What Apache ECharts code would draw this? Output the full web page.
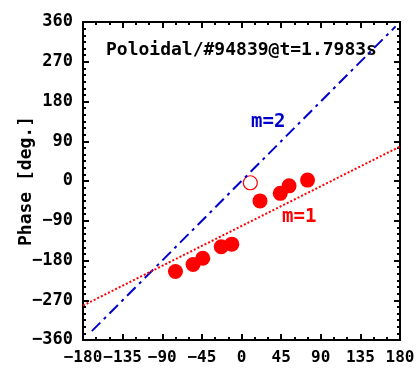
<!DOCTYPE html>
<html>
<head>
<meta charset="utf-8">
<script src="https://cdn.jsdelivr.net/npm/echarts@6/dist/echarts.min.js"></script>
<style>
  html, body { margin: 0; padding: 0; background: #fff; }
  #chart { width: 416px; height: 374px; }
</style>
</head>
<body>
<div id="chart"></div>
<script>
  // measured phases (deg) vs toroidal angle (deg)
  var measured = [
    [-75, -205], [-55, -189], [-44, -175], [-23, -149], [-11, -143],
    [21, -45], [44, -28], [54, -11], [75, 2]
  ];
  // reference probe (open circle)
  var reference = [[10, -4]];
  // fitted lines
  var lineM2 = [[-170, -340], [175, 350]];
  var lineM1 = [[-180, -282], [180, 78]];

  var xTicks = [-180, -135, -90, -45, 0, 45, 90, 135, 180];
  var yTicks = [-360, -270, -180, -90, 0, 90, 180, 270, 360];

  var font = 'DejaVu Sans Mono';
  var fmt = function (v) { return String(v).replace('-', '\u2212'); };

  var chart = echarts.init(document.getElementById('chart'));

  function axisCommon(showLabel) {
    return {
      type: 'value',
      axisLine: { show: true, onZero: false, lineStyle: { color: '#000', width: 2 } },
      axisTick: { show: true, inside: true, length: 6, lineStyle: { color: '#000', width: 2 } },
      minorTick: { show: true, length: 3, lineStyle: { color: '#000', width: 2 } },
      splitLine: { show: false },
      axisLabel: {
        show: showLabel, color: '#000', fontFamily: font, fontWeight: 'bold',
        fontSize: 17, formatter: fmt, interval: 0, showMinLabel: true, showMaxLabel: true,
        hideOverlap: false
      }
    };
  }

  var xBottom = axisCommon(true);
  xBottom.position = 'bottom';
  xBottom.min = xTicks[0]; xBottom.max = xTicks[xTicks.length - 1]; xBottom.interval = 45;
  xBottom.minorTick.splitNumber = 3;
  xBottom.axisLabel.margin = 10;
  xBottom.axisLabel.fontSize = 16;
  var xTop = axisCommon(false);
  xTop.position = 'top';
  xTop.min = xTicks[0]; xTop.max = xTicks[xTicks.length - 1]; xTop.interval = 45;
  xTop.minorTick.splitNumber = 3;

  var yLeft = axisCommon(true);
  yLeft.position = 'left';
  yLeft.min = yTicks[0]; yLeft.max = yTicks[yTicks.length - 1]; yLeft.interval = 90;
  yLeft.minorTick.splitNumber = 6;
  yLeft.axisLabel.margin = 10;
  yLeft.name = 'Phase [deg.]';
  yLeft.nameLocation = 'middle';
  yLeft.nameGap = 48;
  yLeft.nameMoveOverlap = false;
  yLeft.nameTextStyle = { color: '#000', fontFamily: font, fontWeight: 'bold', fontSize: 18 };
  var yRight = axisCommon(false);
  yRight.position = 'right';
  yRight.min = yTicks[0]; yRight.max = yTicks[yTicks.length - 1]; yRight.interval = 90;
  yRight.minorTick.splitNumber = 6;

  chart.setOption({
    animation: false,
    backgroundColor: '#fff',
    grid: { left: 83, top: 22, width: 317, height: 318, outerBoundsMode: 'none' },
    xAxis: [xBottom, xTop],
    yAxis: [yLeft, yRight],
    graphic: [
      {
        type: 'text', left: 106, top: 41,
        style: { text: 'Poloidal/#94839@t=1.7983s', fill: '#000', font: 'bold 18px "DejaVu Sans Mono"' }
      },
      {
        type: 'text', left: 251, top: 113,
        style: { text: 'm=2', fill: '#0000cc', font: 'bold 19px "DejaVu Sans Mono"' }
      },
      {
        type: 'text', left: 282, top: 208,
        style: { text: 'm=1', fill: '#ff0000', font: 'bold 19px "DejaVu Sans Mono"' }
      }
    ],
    series: [
      {
        type: 'line', data: lineM2, showSymbol: false, silent: true,
        lineStyle: { color: '#0000cc', width: 2, type: [12, 5, 3, 5] }
      },
      {
        type: 'line', data: lineM1, showSymbol: false, silent: true,
        lineStyle: { color: '#ff0000', width: 2, type: [2, 2] }
      },
      {
        type: 'scatter', data: measured, symbol: 'circle', symbolSize: 15,
        itemStyle: { color: '#ff0000', opacity: 1 }
      },
      {
        type: 'scatter', data: reference, symbol: 'circle', symbolSize: 14,
        itemStyle: { color: '#fff', borderColor: '#ff0000', borderWidth: 1.2, opacity: 1 }
      }
    ]
  });
</script>
</body>
</html>
